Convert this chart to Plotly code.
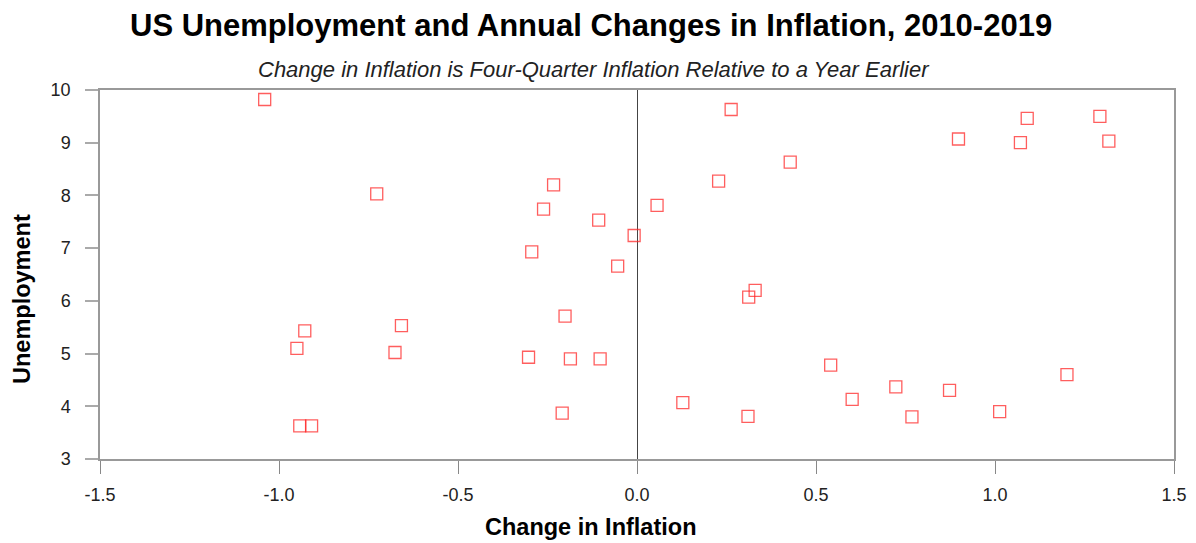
import plotly.graph_objects as go

change_in_inflation = [
    -1.040, -0.727, -0.928, -0.950, -0.942, -0.909, -0.676, -0.658,
    0.263, 0.428, 0.228, 0.056, -0.233, -0.261, -0.107, -0.008, -0.294,
    -0.054, 0.330, 0.312, -0.201, -0.303, -0.186, -0.103, -0.209, 0.128, 0.310,
    1.090, 1.293, 0.898, 1.071, 1.318, 0.541, 0.601, 0.723, 0.768, 0.873, 1.013, 1.201,
]
unemployment = [
    9.82, 8.03, 5.43, 5.10, 3.63, 3.63, 5.02, 5.53,
    9.63, 8.63, 8.27, 7.81, 8.20, 7.74, 7.53, 7.24, 6.93,
    6.66, 6.20, 6.07, 5.71, 4.93, 4.90, 4.90, 3.87, 4.07, 3.81,
    9.46, 9.50, 9.07, 9.00, 9.03, 4.78, 4.13, 4.37, 3.80, 4.30, 3.90, 4.60,
]
x_ticks = [-1.5, -1.0, -0.5, 0.0, 0.5, 1.0, 1.5]
x_tick_labels = ["-1.5", "-1.0", "-0.5", "0.0", "0.5", "1.0", "1.5"]
y_ticks = [3, 4, 5, 6, 7, 8, 9, 10]

FONT = "Liberation Sans, Arial, sans-serif"
# page has an 8px body margin; the figure is sized/placed to fill the rest
OFF = 8
W, H = 1196 - OFF, 543 - OFF
L, R, T, B = 100 - OFF, 22, 90 - OFF, 84
PW, PH = W - L - R, H - T - B


def px_to_paper_x(px):  # px in page pixels
    return (px - OFF - L) / PW


def px_to_paper_y(py):
    return (H - B - (py - OFF)) / PH


fig = go.Figure()
fig.add_trace(go.Scatter(
    x=change_in_inflation, y=unemployment, mode="markers",
    marker=dict(symbol="square-open", size=12, color="rgba(255,40,40,0.75)",
                line=dict(width=1.3, color="rgba(255,40,40,0.75)")),
    showlegend=False, hoverinfo="x+y",
))

fig.update_layout(
    width=W, height=H,
    margin=dict(l=L, r=R, t=T, b=B),
    paper_bgcolor="white", plot_bgcolor="white",
    font=dict(family=FONT, color="#222"),
    annotations=[
        dict(text="<b>US Unemployment and Annual Changes in Inflation, 2010-2019</b>",
             xref="paper", yref="paper", x=px_to_paper_x(591), y=px_to_paper_y(25),
             xanchor="center", yanchor="middle", showarrow=False,
             font=dict(size=31, color="black", family=FONT)),
        dict(text="<i>Change in Inflation is Four-Quarter Inflation Relative to a Year Earlier</i>",
             xref="paper", yref="paper", x=px_to_paper_x(594), y=px_to_paper_y(69),
             xanchor="center", yanchor="middle", showarrow=False,
             font=dict(size=22, color="#222", family=FONT)),
        dict(text="<b>Change in Inflation</b>",
             xref="paper", yref="paper", x=px_to_paper_x(591), y=px_to_paper_y(527),
             xanchor="center", yanchor="middle", showarrow=False,
             font=dict(size=23.5, color="black", family=FONT)),
        dict(text="<b>Unemployment</b>", textangle=-90,
             xref="paper", yref="paper", x=px_to_paper_x(22), y=px_to_paper_y(299),
             xanchor="center", yanchor="middle", showarrow=False,
             font=dict(size=23.5, color="black", family=FONT)),
    ],
)
fig.update_xaxes(
    range=[-1.5, 1.5], tickvals=x_ticks, ticktext=x_tick_labels, automargin=False,
    showgrid=False, zeroline=True, zerolinecolor="#444", zerolinewidth=1,
    showline=True, linecolor="#999", linewidth=1.5, mirror=True,
    ticks="outside", ticklen=13, tickcolor="#888", tickwidth=1.2,
    ticklabelstandoff=6,
    tickfont=dict(size=18, color="#222"),
)
fig.update_yaxes(
    range=[3, 10], tickvals=y_ticks, automargin=False,
    showgrid=False, zeroline=False,
    showline=True, linecolor="#999", linewidth=1.5, mirror=True,
    ticks="outside", ticklen=13, tickcolor="#aaa", tickwidth=1.5,
    ticklabelstandoff=11,
    tickfont=dict(size=18, color="#222"),
)

fig.write_html("out.html")
